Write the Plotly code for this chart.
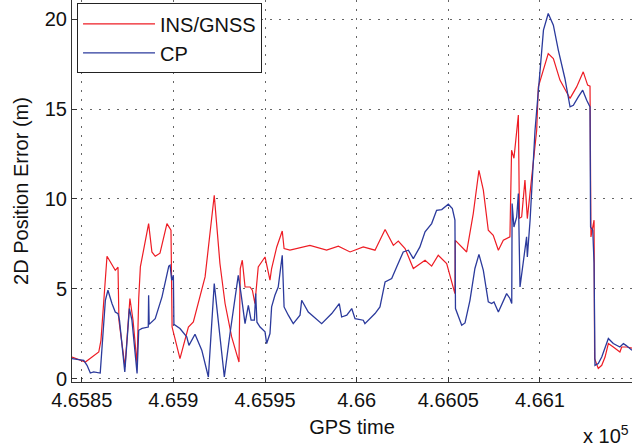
import plotly.graph_objects as go

# ---- data (GPS time in s, 2D position error in m) ----
ins_t = [465844.7, 465852.0, 465859.3, 465860.5, 465863.8, 465868.3, 465869.8, 465870.3, 465873.6,
         465876.3, 465878.0, 465880.2, 465881.1, 465882.0, 465886.5, 465888.3, 465890.1, 465892.7,
         465896.5, 465898.7, 465899.3, 465903.6, 465908.2, 465910.9, 465917.3, 465920.0, 465922.3,
         465925.4, 465928.2, 465931.8, 465935.8, 465936.5, 465937.6, 465939.1, 465941.8, 465943.1,
         465944.5, 465946.3, 465950.0, 465952.7, 465953.6, 465956.4, 465959.4, 465960.4, 465963.6,
         465974.5, 465983.6, 465990.0, 465996.4, 466003.6, 466010.0, 466015.5, 466020.0, 466022.7,
         466026.4, 466030.9, 466037.3, 466040.9, 466044.5, 466049.1, 466053.6, 466053.8, 466060.0,
         466063.6, 466066.7, 466069.1, 466071.8, 466074.5, 466077.3, 466080.0, 466083.6, 466084.5,
         466085.8, 466088.2, 466088.8, 466090.0, 466091.8, 466093.1, 466098.2, 466099.1, 466104.5,
         466107.3, 466110.9, 466116.4, 466120.0, 466123.6, 466126.0, 466127.3, 466127.8, 466129.5,
         466129.8, 466131.8, 466133.7, 466135.5, 466137.3, 466140.0, 466143.6, 466144.6, 466147.3,
         466150.2]
ins_err = [1.20, 0.92, 1.48, 2.13, 6.81, 6.03, 6.20, 3.25, 0.65,
           4.46, 3.25, 0.80, 4.47, 6.22, 8.63, 7.05, 6.81, 6.98,
           8.63, 8.26, 2.87, 1.11, 2.87, 3.15, 5.66, 8.26, 10.21,
           6.41, 4.18, 2.32, 0.92, 6.13, 6.59, 5.10, 5.10, 4.92,
           4.18, 6.22, 6.77, 5.48, 6.13, 7.33, 8.22, 7.24, 7.15,
           7.42, 7.15, 7.37, 7.05, 7.33, 7.15, 8.30, 7.42, 7.66,
           7.24, 6.13, 6.59, 6.26, 6.87, 6.41, 4.73, 7.70, 7.05,
           9.19, 11.60, 10.49, 8.26, 7.98, 7.15, 7.70, 7.89, 12.72,
           12.27, 14.67, 8.93, 9.00, 11.05, 8.91, 13.83, 16.24, 18.10,
           17.82, 16.62, 15.60, 16.24, 17.08, 16.34, 16.28, 7.89, 8.82,
           1.11, 0.56, 0.74, 1.20, 1.95, 1.76, 1.48, 1.76, 1.76,
           1.69]

cp_t = [465844.7, 465851.1, 465852.9, 465854.7, 465856.5, 465860.1, 465862.9, 465864.3, 465866.5,
        465868.3, 465869.8, 465870.6, 465873.5, 465876.0, 465877.4, 465880.2, 465881.1, 465882.9,
        465886.3, 465886.5, 465886.8, 465890.1, 465893.8, 465897.5, 465898.2, 465899.1, 465900.0,
        465900.3, 465903.6, 465907.3, 465908.5, 465911.8, 465915.5, 465919.1, 465922.3, 465924.5,
        465927.8, 465930.9, 465935.4, 465936.9, 465939.1, 465940.9, 465942.4, 465944.2, 465944.9,
        465945.6, 465947.3, 465950.0, 465950.9, 465952.7, 465953.6, 465955.4, 465957.2, 465959.4,
        465960.4, 465962.7, 465965.4, 465969.1, 465970.0, 465973.6, 465979.1, 465980.9, 465986.4,
        465990.5, 465991.8, 465994.6, 465997.3, 465999.1, 466003.6, 466004.5, 466010.0, 466012.7,
        466015.5, 466019.1, 466021.8, 466025.4, 466028.2, 466030.9, 466034.5, 466037.3, 466040.9,
        466043.6, 466046.4, 466050.0, 466052.2, 466053.6, 466053.9, 466055.4, 466057.3, 466059.1,
        466061.8, 466064.5, 466066.7, 466069.1, 466071.8, 466073.6, 466074.9, 466077.3, 466080.0,
        466081.8, 466083.6, 466084.6, 466084.8, 466085.8, 466087.3, 466088.2, 466089.1, 466091.3,
        466092.7, 466093.1, 466094.6, 466097.3, 466099.1, 466101.9, 466104.5, 466107.3, 466110.0,
        466113.6, 466116.4, 466118.2, 466120.9, 466123.3, 466125.5, 466127.3, 466127.6, 466128.8,
        466129.5, 466130.0, 466131.8, 466133.7, 466137.3, 466140.0, 466143.6, 466145.5, 466146.9,
        466150.2]
cp_err = [1.11, 1.02, 0.74, 0.31, 0.37, 0.31, 4.36, 4.92, 4.18,
          3.71, 3.62, 3.25, 0.37, 3.90, 3.25, 0.28, 2.69, 2.79,
          2.87, 4.64, 3.02, 3.34, 4.55, 6.26, 6.31, 5.48, 5.75,
          3.02, 2.79, 2.32, 1.85, 2.47, 1.58, 0.09, 5.29, 3.25,
          0.09, 2.51, 5.75, 4.73, 3.06, 4.08, 3.25, 3.25, 4.73,
          3.14, 2.87, 2.60, 1.95, 2.51, 3.99, 4.64, 5.10, 6.87,
          3.99, 3.53, 3.06, 3.53, 4.36, 3.71, 3.25, 3.06, 3.62,
          4.18, 3.43, 3.53, 3.90, 3.34, 3.25, 3.06, 3.62, 3.99,
          5.38, 5.57, 6.22, 7.05, 7.15, 6.68, 7.33, 8.17, 8.63,
          9.37, 9.41, 9.71, 9.47, 8.82, 3.90, 3.43, 2.97, 3.10,
          4.36, 6.13, 6.92, 6.03, 4.27, 4.18, 4.27, 3.71, 4.36,
          4.73, 4.46, 4.18, 9.75, 8.44, 9.00, 10.30, 5.10, 6.77,
          7.89, 6.77, 8.82, 13.83, 16.06, 19.40, 20.33, 19.68, 18.29,
          16.71, 15.13, 15.22, 15.69, 16.06, 15.50, 15.13, 8.44, 8.26,
          6.42, 0.74, 0.84, 1.20, 2.23, 1.95, 1.76, 1.95, 1.85,
          1.58]

x_tick_vals = [465850, 465900, 465950, 466000, 466050, 466100]
x_tick_text = ["4.6585", "4.659", "4.6595", "4.66", "4.6605", "4.661"]
y_tick_vals = [0, 5, 10, 15, 20]

FONT = "Liberation Sans, Arial, Helvetica, sans-serif"
RED = "#ee1c24"
BLUE = "#2b3a9c"

fig = go.Figure()
fig.add_trace(go.Scatter(x=ins_t, y=ins_err, mode="lines", name="INS/GNSS",
                         line=dict(color=RED, width=1.2)))
fig.add_trace(go.Scatter(x=cp_t, y=cp_err, mode="lines", name="CP",
                         line=dict(color=BLUE, width=1.3)))

axis_common = dict(
    showline=True, linecolor="#333333", linewidth=1, mirror=False,
    ticks="inside", ticklen=5, tickcolor="#333333",
    showgrid=True, gridcolor="#666666", gridwidth=1, griddash="2px,7px",
    zeroline=False, automargin=False,
    tickfont=dict(family=FONT, size=20, color="#111111"),
)

fig.update_layout(
    width=632, height=448,
    margin=dict(l=72, r=0, t=0, b=66),
    paper_bgcolor="white", plot_bgcolor="white",
    font=dict(family=FONT, size=20, color="#111111"),
    showlegend=True,
    legend=dict(x=0.009, y=0.991, xanchor="left", yanchor="top",
                bgcolor="white", bordercolor="#222222", borderwidth=1,
                font=dict(family=FONT, size=20, color="#111111"),
                itemwidth=72, tracegroupgap=0),
    xaxis=dict(range=[465844.7, 466150.2], tickmode="array",
               tickvals=x_tick_vals, ticktext=x_tick_text,
               title=dict(text="GPS time", standoff=9,
                          font=dict(family=FONT, size=20, color="#111111")),
               **axis_common),
    yaxis=dict(range=[-0.19, 21.08], tickmode="array", tickvals=y_tick_vals,
               title=dict(text="2D Position Error (m)", standoff=10,
                          font=dict(family=FONT, size=20, color="#111111")),
               **axis_common),
    annotations=[dict(text="x 10<sup>5</sup>", xref="paper", yref="paper",
                      x=0.998, y=-0.138, xanchor="right", yanchor="middle",
                      showarrow=False,
                      font=dict(family=FONT, size=20, color="#111111"))],
)

fig.write_html("out.html", config={"displayModeBar": False},
               post_script="document.body.style.margin='0';")
